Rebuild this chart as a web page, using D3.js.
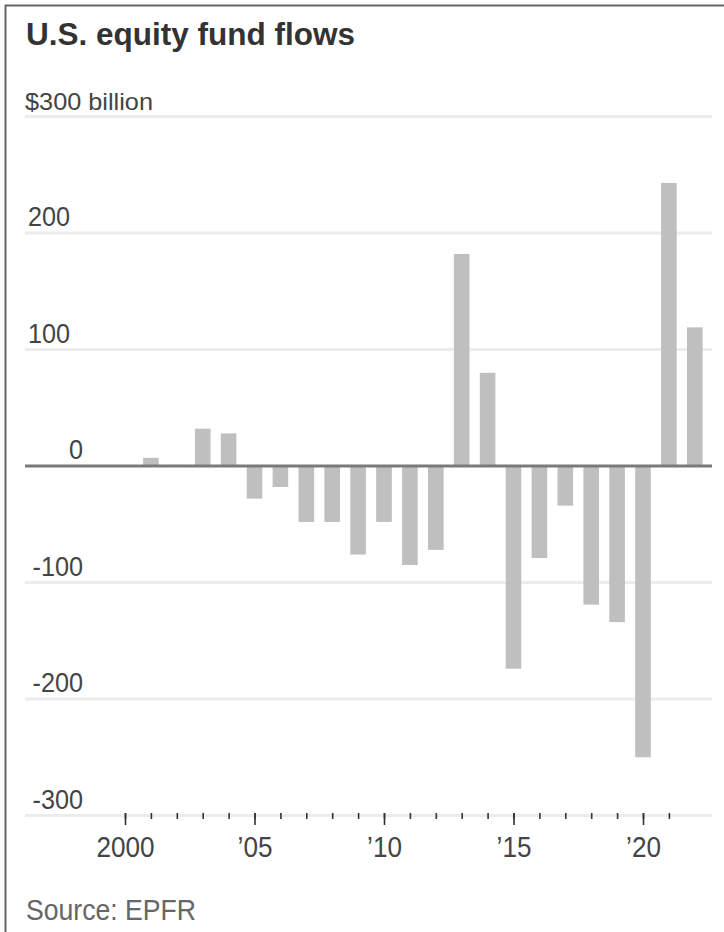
<!DOCTYPE html>
<html>
<head>
<meta charset="utf-8">
<script src="https://cdn.jsdelivr.net/npm/d3@7"></script>
<style>
  html, body { margin: 0; padding: 0; background: #fff; }
  svg { display: block; }
  .lbl { font-family: "Liberation Sans", Arial, "Noto Sans", sans-serif; }
</style>
</head>
<body>
<svg id="chart" width="724" height="932"></svg>
<script>
// Annual net flows into U.S. equity funds, $ billion
const years = [2001, 2002, 2003, 2004, 2005, 2006, 2007, 2008, 2009, 2010, 2011,
               2012, 2013, 2014, 2015, 2016, 2017, 2018, 2019, 2020, 2021, 2022];
const flows = [7, 1, 32, 28, -28, -18, -48, -48, -76, -48, -85,
               -72, 182, 80, -174, -79, -34, -119, -134, -250, 243, 119];

const yTicks = [300, 200, 100, 0, -100, -200, -300];
const yTickLabels = ["$300 billion", "200", "100", "0", "-100", "-200", "-300"];
const xTickYears = [2000, 2001, 2002, 2003, 2004, 2005, 2006, 2007, 2008, 2009, 2010,
                    2011, 2012, 2013, 2014, 2015, 2016, 2017, 2018, 2019, 2020, 2021];
const xMajorYears = [2000, 2005, 2010, 2015, 2020];
const xMajorLabels = ["2000", "\u201905", "\u201910", "\u201915", "\u201920"];

const svg = d3.select("#chart");
const W = 724, H = 932;
const plotLeft = 25, plotRight = 712;

const x = d3.scaleLinear().domain([2000, 2020]).range([125, 643]);
const y = d3.scaleLinear().domain([-300, 300]).range([815.5, 116.5]);
const barW = 15.6;

// squeeze glyphs horizontally to get a narrow face
function condense(sel, k) {
  sel.each(function () {
    const w = this.getComputedTextLength();
    d3.select(this).attr("textLength", w * k).attr("lengthAdjust", "spacingAndGlyphs");
  });
}
function fitWidth(sel, target) {
  sel.attr("textLength", target).attr("lengthAdjust", "spacingAndGlyphs");
}

// frame
svg.append("line").attr("x1", 5).attr("x2", W).attr("y1", 5.5).attr("y2", 5.5)
  .attr("stroke", "#666").attr("stroke-width", 2);
svg.append("line").attr("x1", 5.5).attr("x2", 5.5).attr("y1", 5).attr("y2", H)
  .attr("stroke", "#666").attr("stroke-width", 2);

// title
svg.append("text").attr("class", "lbl")
  .attr("x", 26).attr("y", 45)
  .attr("font-size", 32).attr("font-weight", "bold").attr("fill", "#333")
  .text("U.S. equity fund flows")
  .call(fitWidth, 329);

// gridlines
svg.append("g").selectAll("line").data(yTicks.filter(d => d !== 0)).join("line")
  .attr("x1", plotLeft).attr("x2", plotRight)
  .attr("y1", d => y(d)).attr("y2", d => y(d))
  .attr("stroke", "#ececec").attr("stroke-width", 3);

// y labels: unit label and positive values start at the left margin,
// zero and negatives end at a common right edge
svg.append("g").selectAll("text").data(yTicks).join("text")
  .attr("class", "lbl")
  .attr("x", d => d > 0 ? (d === 300 ? 25 : 28) : 83)
  .attr("y", d => y(d) - 7)
  .attr("text-anchor", d => d > 0 ? "start" : "end")
  .attr("font-size", d => d === 300 ? 24 : 28)
  .attr("fill", "#444")
  .text((d, i) => yTickLabels[i])
  .each(function (d) {
    if (d === 300) fitWidth(d3.select(this), 128);
    else condense(d3.select(this), 0.9);
  });

// bars
svg.append("g").selectAll("rect").data(years).join("rect")
  .attr("x", d => x(d) - barW / 2)
  .attr("width", barW)
  .attr("y", (d, i) => Math.min(y(flows[i]), y(0)))
  .attr("height", (d, i) => Math.abs(y(flows[i]) - y(0)))
  .attr("fill", "#bfbfbf");

// zero line
svg.append("line")
  .attr("x1", plotLeft).attr("x2", plotRight)
  .attr("y1", y(0)).attr("y2", y(0))
  .attr("stroke", "#7a7a7a").attr("stroke-width", 3);

// x axis: minor year ticks and labelled major ticks
const axisY = 813;
const minorAxis = d3.axisBottom(x).tickValues(xTickYears).tickSize(6).tickFormat("");
const gMinor = svg.append("g").attr("transform", `translate(0,${axisY})`).call(minorAxis);
gMinor.select(".domain").remove();
gMinor.selectAll(".tick line").attr("stroke", "#333").attr("stroke-width", 1.6);

const majorAxis = d3.axisBottom(x).tickValues(xMajorYears).tickSize(12)
  .tickPadding(11).tickFormat((d, i) => xMajorLabels[i]);
const gMajor = svg.append("g").attr("transform", `translate(0,${axisY})`).call(majorAxis);
gMajor.select(".domain").remove();
gMajor.selectAll(".tick line").attr("stroke", "#333").attr("stroke-width", 1.6);
gMajor.selectAll(".tick text").attr("class", "lbl")
  .attr("font-size", 29).attr("fill", "#444").attr("font-family", null)
  .call(condense, 0.9);

// source
svg.append("text").attr("class", "lbl")
  .attr("x", 26).attr("y", 920)
  .attr("font-size", 29).attr("fill", "#666")
  .text("Source: EPFR")
  .call(fitWidth, 170);
</script>
</body>
</html>
